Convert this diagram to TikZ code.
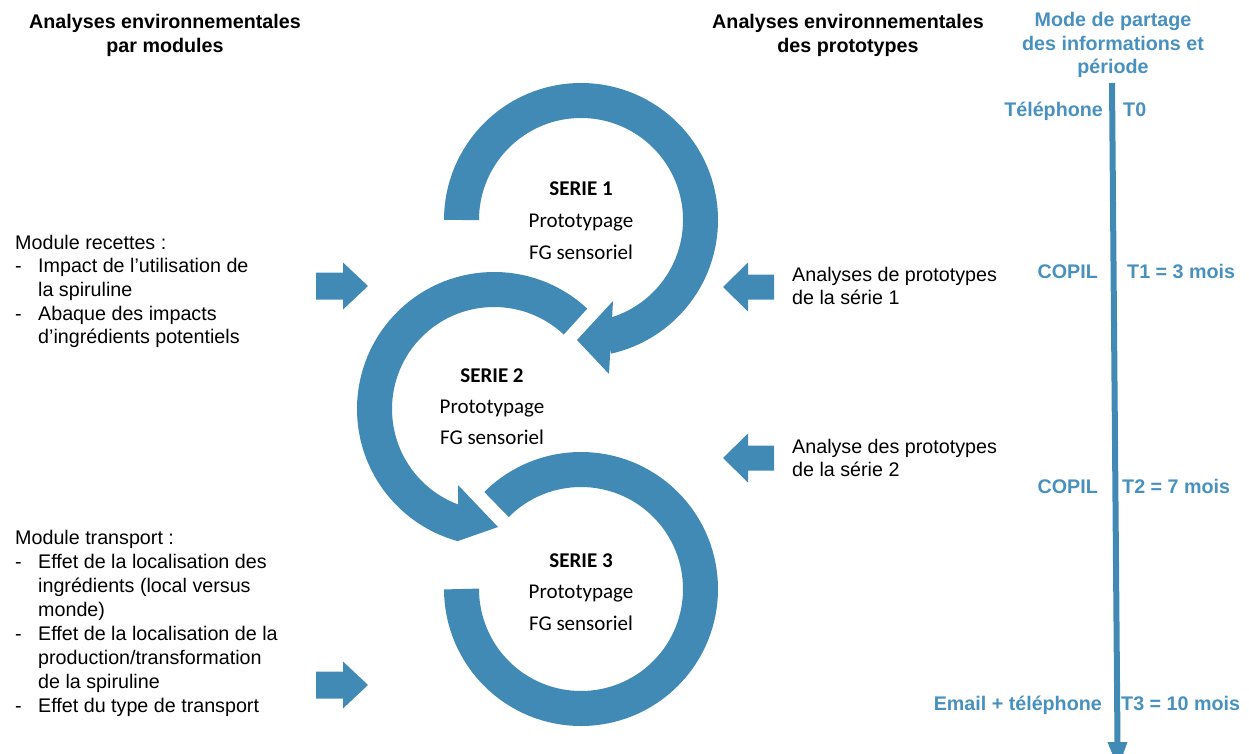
\documentclass[tikz,border=0pt]{standalone}
\usepackage{fontspec}
\setmainfont{Liberation Sans}
\newfontfamily\calib{Carlito}
\usetikzlibrary{calc}
\definecolor{band}{RGB}{65,138,181}
\definecolor{tlblue}{RGB}{72,144,190}
\begin{document}
\begin{tikzpicture}[x=1pt,y=-1pt,
  txt/.style={inner sep=0pt, font=\fontsize{19.7}{23.7}\selectfont, text=black},
  hdr/.style={inner sep=0pt, font=\fontsize{19.7}{23.7}\selectfont\bfseries, text=black, anchor=base},
  tl/.style={inner sep=0pt, font=\fontsize{19.7}{23.7}\selectfont\bfseries, text=tlblue},
  ser/.style={inner sep=0pt, font=\calib\fontsize{21}{25}\selectfont, anchor=base},
  bandarc/.style={draw=band, line width=35pt},
  rarrow/.pic={\fill[band] (0,-13.5) -- (27,-13.5) -- (27,-23.5) -- (52,0) -- (27,23.5) -- (27,13.5) -- (0,13.5) -- cycle;},
  larrow/.pic={\fill[band] (0,0) -- (25,-24.5) -- (25,-12.5) -- (51,-12.5) -- (51,12.5) -- (25,12.5) -- (25,24.5) -- cycle;},
]
\useasboundingbox (0,0) rectangle (1249,754);
\clip (0,0) rectangle (1249,754);

% circle centres
\coordinate (C1) at (581,220);
\coordinate (C2) at (494,409);
\coordinate (C3) at (581,589);

% circle 1 (clockwise, head at bottom pointing left)
\draw[bandarc] ($(C1)+(180:119.5)$) arc[start angle=180, end angle=437.5, radius=119.5];
\fill[band] ($(C1)+(32,81)$) -- ($(C1)+(-4,120)$) -- ($(C1)+(28,154)$) -- cycle;

% circle 2 (counter-clockwise, head at bottom pointing right)
\draw[bandarc] ($(C2)+(313:119.5)$) arc[start angle=313, end angle=105, radius=119.5];
\fill[band] ($(C2)+(-36,76)$) -- ($(C2)+(4,118)$) -- ($(C2)+(-36,132)$) -- cycle;

% circle 3 (open ring)
\draw[bandarc] ($(C3)+(225:119.5)$) arc[start angle=225, end angle=540, radius=119.5];

% series texts
\node[ser] (s1a) at (581,196) {\bfseries SERIE 1};
\node[ser] (s1b) at (581,227) {Prototypage};
\node[ser] (s1c) at (581,259) {FG sensoriel};
\node[ser] (s2a) at (492,382) {\bfseries SERIE 2};
\node[ser] (s2b) at (492,413) {Prototypage};
\node[ser] (s2c) at (492,444) {FG sensoriel};
\node[ser] (s3a) at (581,567) {\bfseries SERIE 3};
\node[ser] (s3b) at (581,598) {Prototypage};
\node[ser] (s3c) at (581,630) {FG sensoriel};

% block arrows
\pic at (316,286) {rarrow};
\pic at (316,685) {rarrow};
\pic at (723,287) {larrow};
\pic at (723,458) {larrow};

% headers
\node[hdr] (h1a) at (165,29) {Analyses environnementales};
\node[hdr] (h1b) at (165,53) {par modules};
\node[hdr] (h2a) at (848,29) {Analyses environnementales};
\node[hdr] (h2b) at (848,53) {des prototypes};

% left texts
\node[txt, anchor=base west] (m1) at (15,249) {Module recettes :};
\node[txt, anchor=base west] (m2) at (15,272.5) {\makebox[23pt][l]{-}Impact de l’utilisation de};
\node[txt, anchor=base west] (m3) at (38,296) {la spiruline};
\node[txt, anchor=base west] (m4) at (15,320) {\makebox[23pt][l]{-}Abaque des impacts};
\node[txt, anchor=base west] (m5) at (38,343.5) {d’ingrédients potentiels};

\node[txt, anchor=base west] (t1) at (15,544) {Module transport :};
\node[txt, anchor=base west] (t2) at (15,568) {\makebox[23pt][l]{-}Effet de la localisation des};
\node[txt, anchor=base west] (t3) at (38,592) {ingrédients (local versus};
\node[txt, anchor=base west] (t4) at (38,616) {monde)};
\node[txt, anchor=base west] (t5) at (15,640) {\makebox[23pt][l]{-}Effet de la localisation de la};
\node[txt, anchor=base west] (t6) at (38,664) {production/transformation};
\node[txt, anchor=base west] (t7) at (38,688) {de la spiruline};
\node[txt, anchor=base west] (t8) at (15,712) {\makebox[23pt][l]{-}Effet du type de transport};

% right texts
\node[txt, anchor=base west] (r1) at (792,281) {Analyses de prototypes};
\node[txt, anchor=base west] (r2) at (792,304) {de la série 1};
\node[txt, anchor=base west] (r3) at (792,453) {Analyse des prototypes};
\node[txt, anchor=base west] (r4) at (792,476) {de la série 2};

% timeline
\coordinate (Ttop) at (1112,83);
\coordinate (Tbot) at (1117.5,744);
\draw[band, line width=6pt] (Ttop) -- (Tbot);
\fill[band] ($(Tbot)+(-10,-2)$) -- ($(Tbot)+(10,-2)$) -- ($(Tbot)+(0.5,24)$) -- cycle;

\node[tl, anchor=base] (ma) at (1113,27) {Mode de partage};
\node[tl, anchor=base] (mb) at (1113,50.5) {des informations et};
\node[tl, anchor=base] (mc) at (1113,74) {période};

\node[tl, anchor=base east] (p0) at (1103,117) {Téléphone};
\node[tl, anchor=base west] (q0) at (1123,117) {T0};
\node[tl, anchor=base east] (p1) at (1098,278) {COPIL};
\node[tl, anchor=base west] (q1) at (1127,278) {T1 = 3 mois};
\node[tl, anchor=base east] (p2) at (1098,493) {COPIL};
\node[tl, anchor=base west] (q2) at (1122,493) {T2 = 7 mois};
\node[tl, anchor=base east] (p3) at (1102,710) {Email + téléphone};
\node[tl, anchor=base west] (q3) at (1121,710) {T3 = 10 mois};
\end{tikzpicture}
\end{document}
